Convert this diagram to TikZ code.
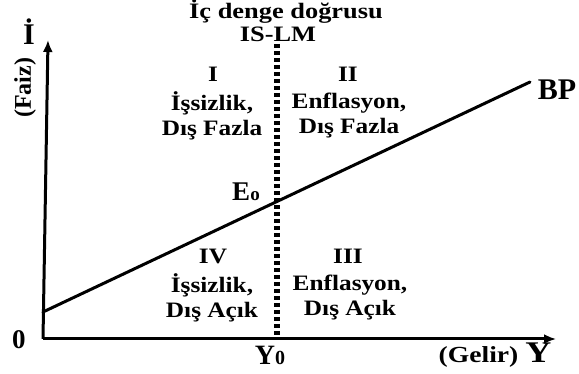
\documentclass[tikz,border=0pt]{standalone}
\usepackage{fontspec}
\setmainfont{Liberation Serif}
\usepackage{graphicx}
\usetikzlibrary{arrows.meta}
\newcommand\sx[2][1.15]{\scalebox{#1}[1]{#2}}
\tikzset{
  lbl/.style={font=\fontsize{22}{25}\selectfont\bfseries, inner sep=0pt, align=center},
  axisline/.style={line width=3pt, -{Latex[length=12pt,width=10pt]}},
  bpline/.style={line width=3pt, line cap=round},
  dotline/.style={line width=6pt, dash pattern=on 4pt off 3pt},
}
\begin{document}
\begin{tikzpicture}[x=1pt,y=1pt]
\useasboundingbox (0,0) rectangle (579,374);
\fill[white] (0,0) rectangle (579,374);
% coordinates
\coordinate (O) at (43,35);
\coordinate (ytop) at (48,334);
\coordinate (xend) at (556,35);
\coordinate (bpA) at (43,62);
\coordinate (bpB) at (530,292);
\coordinate (dTop) at (277,330);
\coordinate (dBot) at (277,37);
% lines
\draw[dotline] (dTop) -- (dBot);
\draw[axisline] (O) -- (ytop);
\draw[axisline] (O) -- (xend);
\draw[bpline] (bpA) -- (bpB);
% labels
\node[lbl, font=\fontsize{30}{32}\selectfont\bfseries] (iax) at (29,342) {İ};
\node[lbl, font=\fontsize{24}{25}\selectfont\bfseries, rotate=90] (faiz) at (25,286) {(Faiz)};
\node[lbl] (head) at (286,362) {\sx[1.2]{İç denge doğrusu}};
\node[lbl] (islm) at (278,340) {\sx[1.2]{IS-LM}};
\node[lbl] (q1) at (213,300) {\sx{I}};
\node[lbl] (q2) at (348,300) {\sx{II}};
\node[lbl] (q4) at (213,118) {\sx{IV}};
\node[lbl] (q3) at (348,118) {\sx{III}};
\node[lbl] (t1) at (212,258) {\sx{İşsizlik,}\\\sx{Dış Fazla}};
\node[lbl] (t2) at (349,258) {\sx{Enflasyon,}\\\sx{Dış Fazla}};
\node[lbl] (t4) at (212,76) {\sx{İşsizlik,}\\\sx{Dış Açık}};
\node[lbl] (t3) at (350,76) {\sx{Enflasyon,}\\\sx{Dış Açık}};
\node[lbl, font=\fontsize{30}{32}\selectfont\bfseries] (bp) at (557,284) {BP};
\node[lbl, font=\fontsize{27}{29}\selectfont\bfseries] (e0) at (246,182) {E{\fontsize{19}{20}\selectfont o}};
\node[lbl, font=\fontsize{27}{29}\selectfont\bfseries] (zero) at (19,34) {0};
\node[lbl, font=\fontsize{28}{30}\selectfont\bfseries] (y0) at (270,19) {Y{\fontsize{20}{22}\selectfont 0}};
\node[lbl, font=\fontsize{23}{26}\selectfont\bfseries] (gelir) at (495,19) {\sx[1.2]{(Gelir) {\fontsize{30}{32}\selectfont Y}}};
\end{tikzpicture}
\end{document}
